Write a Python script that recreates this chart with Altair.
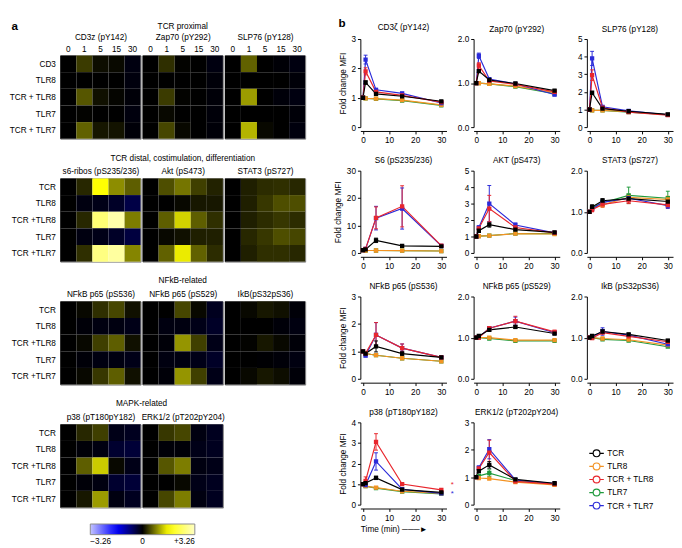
import altair as alt
import pandas as pd

FONT = "Liberation Sans"
FS = 8.5
TIMES = [0, 1, 5, 15, 30]
TIME_LABELS = ["0", "1", "5", "15", "30"]
ROWS_PROX = ["CD3", "TLR8", "TCR + TLR8", "TLR7", "TCR + TLR7"]
ROWS_OTHER = ["TCR", "TLR8", "TCR +TLR8", "TLR7", "TCR +TLR7"]

# ---------------- panel a: heat values (rows = conditions, columns = TIMES)
cd3z = [[0, 0.38, 0.08, 0.06, -0.10], [0, 0.00, 0.00, 0.00, -0.08], [0, 0.55, 0.10, 0.03, -0.05],
        [0, 0.02, 0.00, 0.00, -0.08], [0, 0.62, 0.14, 0.12, -0.05]]
zap70 = [[0, 0.30, 0.02, 0.00, -0.10], [0, 0.00, 0.00, 0.00, -0.06], [0, 0.38, 0.02, 0.00, -0.05],
         [0, 0.05, 0.00, 0.00, -0.06], [0, 0.45, 0.05, 0.00, -0.05]]
slp76 = [[0, 0.62, 0.00, -0.04, -0.10], [0, 0.00, 0.00, 0.00, -0.05], [0, 1.00, 0.00, -0.06, -0.10],
         [0, 0.00, 0.00, 0.00, -0.05], [0, 1.15, 0.05, 0.00, -0.08]]
s6ribos = [[0, 0.25, 1.65, 0.90, 0.60], [0, -0.10, -0.15, -0.25, -0.45], [0, 0.25, 2.60, 3.05, 0.80],
           [0, -0.10, -0.15, -0.25, -0.40], [0, 0.30, 2.70, 2.95, 0.85]]
akt = [[0, 0.50, 0.75, 0.40, 0.22], [0, 0.00, 0.05, 0.15, 0.15], [0, 0.60, 1.35, 0.60, 0.30],
       [0, 0.05, 0.10, 0.20, 0.20], [0, 0.62, 1.50, 0.62, 0.28]]
stat3 = [[0, 0.20, 0.28, 0.30, 0.25], [0, 0.20, 0.35, 0.50, 0.50], [0, 0.20, 0.28, 0.35, 0.28],
         [0, 0.25, 0.35, 0.50, 0.45], [0, 0.20, 0.30, 0.30, 0.25]]
nfkb536 = [[0, 0.05, 0.30, 0.45, 0.10], [0, -0.05, -0.10, -0.10, -0.15], [0, 0.05, 0.40, 0.60, 0.10],
           [0, -0.05, -0.10, -0.10, -0.15], [0, 0.05, 0.35, 0.60, 0.10]]
nfkb529 = [[0, 0.00, 0.45, 0.05, -0.20], [0, -0.10, -0.10, -0.15, -0.25], [0, -0.05, 0.95, 0.40, -0.15],
           [0, -0.10, -0.10, -0.15, -0.25], [0, -0.05, 0.95, 0.40, -0.15]]
ikb = [[0, 0.05, 0.15, 0.10, -0.05], [0, 0.00, 0.00, -0.05, -0.10], [0, 0.02, 0.15, 0.05, -0.05],
       [0, 0.00, -0.02, -0.05, -0.10], [0, 0.05, 0.15, 0.08, -0.05]]
p38 = [[0, 0.25, 0.40, -0.15, -0.20], [0, -0.05, -0.10, -0.30, -0.35], [0, 0.60, 1.30, 0.05, -0.15],
       [0, -0.05, -0.10, -0.30, -0.35], [0, 0.15, 1.00, -0.10, -0.20]]
erk = [[0, 0.35, 0.45, -0.10, -0.20], [0, -0.05, -0.05, -0.15, -0.20], [0, 0.55, 0.80, -0.10, -0.15],
       [0, 0.00, 0.05, -0.15, -0.20], [0, 0.45, 0.80, -0.10, -0.20]]

HEAT_ROWS = [
    (ROWS_PROX, [(None, "CD3z (pY142)", cd3z), ("TCR proximal", "Zap70 (pY292)", zap70),
                 (None, "SLP76 (pY128)", slp76)]),
    (ROWS_OTHER, [(None, "s6-ribos (pS235/236)", s6ribos),
                  ("TCR distal, costimulation, differentiation", "Akt (pS473)", akt),
                  (None, "STAT3 (pS727)", stat3)]),
    (ROWS_OTHER, [(None, "NFkB p65 (pS536)", nfkb536), ("NFkB-related", "NFkB p65 (pS529)", nfkb529),
                  (None, "IkB(pS32pS36)", ikb)]),
    (ROWS_OTHER, [("MAPK-related", "p38 (pT180pY182)", p38), (None, "ERK1/2 (pT202pY204)", erk)]),
]
HEAT_DOMAIN = [-3.26, -1.63, 0, 1.63, 3.26]
HEAT_RANGE = ["#c4c4ff", "#0000ff", "#000000", "#ffff00", "#ffffc4"]

# ---------------- panel b: fold change MFI (columns = TIMES)
CONDS = ["TCR", "TLR8", "TCR + TLR8", "TLR7", "TCR + TLR7"]
COLORS = ["#000000", "#f39323", "#e8262d", "#1f9a3c", "#2b2bd9"]
DRAW_ORDER = ["TLR7", "TLR8", "TCR + TLR7", "TCR + TLR8", "TCR"]

b_cd3 = {"TCR": [1, 1.52, 1.13, 1.05, 0.88], "TLR8": [1, 0.98, 0.97, 0.92, 0.76],
         "TCR + TLR8": [1, 1.90, 1.20, 1.08, 0.85], "TLR7": [1, 0.98, 0.96, 0.90, 0.74],
         "TCR + TLR7": [1, 2.30, 1.27, 1.15, 0.82]}
e_cd3 = {"TCR": [0, 0.05, 0.03, 0.03, 0.03], "TCR + TLR8": [0, 0.12, 0.04, 0.03, 0.03],
         "TCR + TLR7": [0, 0.15, 0.05, 0.04, 0.03]}
b_zap = {"TCR": [1, 1.27, 1.07, 0.99, 0.83], "TLR8": [1, 1.00, 0.98, 0.93, 0.78],
         "TCR + TLR8": [1, 1.40, 1.05, 0.97, 0.80], "TLR7": [1, 1.00, 0.98, 0.92, 0.76],
         "TCR + TLR7": [1, 1.62, 1.09, 0.98, 0.74]}
e_zap = {"TCR": [0, 0.03, 0.02, 0.02, 0.02], "TCR + TLR8": [0, 0.06, 0.02, 0.02, 0.02],
         "TCR + TLR7": [0, 0.06, 0.02, 0.02, 0.03]}
b_slp = {"TCR": [1, 1.95, 1.05, 0.90, 0.72], "TLR8": [1, 0.95, 0.95, 0.87, 0.70],
         "TCR + TLR8": [1, 2.95, 1.10, 0.85, 0.68], "TLR7": [1, 0.95, 0.95, 0.85, 0.70],
         "TCR + TLR7": [1, 3.90, 1.15, 0.92, 0.70]}
e_slp = {"TCR + TLR8": [0, 0.30, 0.05, 0.04, 0.03], "TCR + TLR7": [0, 0.40, 0.05, 0.04, 0.03]}
b_s6 = {"TCR": [1, 1.3, 4.6, 2.6, 2.4], "TLR8": [1, 0.9, 0.9, 0.85, 0.7],
        "TCR + TLR8": [1, 1.5, 12.8, 17.0, 2.7], "TLR7": [1, 0.9, 0.9, 0.85, 0.7],
        "TCR + TLR7": [1, 1.5, 12.7, 16.2, 2.6]}
e_s6 = {"TCR": [0, 0.2, 0.8, 0.2, 0.2], "TCR + TLR8": [0, 0.3, 4.0, 7.5, 0.3],
        "TCR + TLR7": [0, 0.3, 4.3, 7.5, 0.3]}
b_akt = {"TCR": [1, 1.35, 1.72, 1.42, 1.25], "TLR8": [1, 1.02, 1.05, 1.17, 1.15],
         "TCR + TLR8": [1, 1.50, 2.70, 1.55, 1.22], "TLR7": [1, 1.02, 1.05, 1.18, 1.17],
         "TCR + TLR7": [1, 1.55, 3.00, 1.70, 1.22]}
e_akt = {"TCR": [0, 0.08, 0.15, 0.06, 0.05], "TCR + TLR8": [0, 0.10, 0.80, 0.10, 0.05],
         "TCR + TLR7": [0, 0.10, 1.10, 0.12, 0.05]}
b_stat = {"TCR": [1, 1.12, 1.27, 1.32, 1.25], "TLR8": [1, 1.08, 1.17, 1.35, 1.30],
          "TCR + TLR8": [1, 1.05, 1.18, 1.27, 1.17], "TLR7": [1, 1.10, 1.22, 1.40, 1.33],
          "TCR + TLR7": [1, 1.07, 1.23, 1.33, 1.15]}
e_stat = {"TCR": [0, 0.05, 0.05, 0.06, 0.06], "TLR8": [0, 0.05, 0.06, 0.08, 0.08],
          "TCR + TLR8": [0, 0.05, 0.06, 0.07, 0.07], "TLR7": [0, 0.05, 0.06, 0.20, 0.17],
          "TCR + TLR7": [0, 0.05, 0.06, 0.08, 0.07]}
b_nf536 = {"TCR": [1, 0.92, 1.18, 0.92, 0.78], "TLR8": [1, 0.92, 0.86, 0.75, 0.64],
           "TCR + TLR8": [1, 0.93, 1.60, 1.12, 0.78], "TLR7": [1, 0.92, 0.86, 0.75, 0.64],
           "TCR + TLR7": [1, 0.85, 1.60, 1.12, 0.78]}
e_nf536 = {"TCR": [0, 0.04, 0.20, 0.08, 0.03], "TCR + TLR8": [0, 0.05, 0.45, 0.15, 0.03],
           "TCR + TLR7": [0, 0.05, 0.45, 0.15, 0.03]}
b_nf529 = {"TCR": [1, 1.04, 1.19, 1.26, 1.10], "TLR8": [1, 1.00, 1.00, 0.94, 0.94],
           "TCR + TLR8": [1, 1.00, 1.23, 1.40, 1.14], "TLR7": [1, 1.00, 0.98, 0.92, 0.92],
           "TCR + TLR7": [1, 1.01, 1.23, 1.40, 1.12]}
e_nf529 = {"TCR": [0, 0.02, 0.03, 0.04, 0.03], "TCR + TLR8": [0, 0.02, 0.03, 0.12, 0.04],
           "TCR + TLR7": [0, 0.02, 0.03, 0.10, 0.04]}
b_ikb = {"TCR": [1, 1.04, 1.15, 1.08, 0.93], "TLR8": [1, 1.00, 0.98, 0.95, 0.82],
         "TCR + TLR8": [1, 0.99, 1.12, 1.03, 0.90], "TLR7": [1, 1.00, 0.96, 0.93, 0.78],
         "TCR + TLR7": [1, 1.02, 1.15, 1.06, 0.84]}
e_ikb = {"TCR": [0, 0.03, 0.05, 0.03, 0.03], "TCR + TLR7": [0, 0.03, 0.09, 0.03, 0.03]}
b_p38 = {"TCR": [1, 1.05, 1.30, 0.73, 0.60], "TLR8": [1, 0.90, 0.83, 0.65, 0.55],
         "TCR + TLR8": [1, 1.15, 3.05, 1.00, 0.72], "TLR7": [1, 0.90, 0.80, 0.63, 0.52],
         "TCR + TLR7": [1, 0.95, 2.10, 0.75, 0.55]}
e_p38 = {"TCR": [0, 0.05, 0.08, 0.04, 0.03], "TCR + TLR8": [0, 0.20, 0.40, 0.05, 0.04],
         "TCR + TLR7": [0, 0.08, 0.42, 0.05, 0.04]}
b_erk = {"TCR": [1, 1.22, 1.45, 0.92, 0.78], "TLR8": [1, 0.97, 0.95, 0.82, 0.72],
         "TCR + TLR8": [1, 1.32, 1.90, 0.85, 0.75], "TLR7": [1, 1.05, 1.15, 0.88, 0.75],
         "TCR + TLR7": [1, 1.35, 2.02, 0.90, 0.77]}
e_erk = {"TCR": [0, 0.05, 0.12, 0.03, 0.03], "TLR7": [0, 0.05, 0.12, 0.03, 0.03],
         "TCR + TLR8": [0, 0.06, 0.45, 0.04, 0.03], "TCR + TLR7": [0, 0.06, 0.35, 0.04, 0.03]}

B_PANELS = [
    ("CD3\u03b6 (pY142)", 3, [0, 1, 2, 3], b_cd3, e_cd3),
    ("Zap70 (pY292)", 2, [0, 1, 2], b_zap, e_zap),
    ("SLP76 (pY128)", 5, [0, 1, 2, 3, 4, 5], b_slp, e_slp),
    ("S6 (pS235/236)", 30, [0, 10, 20, 30], b_s6, e_s6),
    ("AKT (pS473)", 5, [0, 1, 2, 3, 4, 5], b_akt, e_akt),
    ("STAT3 (pS727)", 2, [0, 1, 2], b_stat, e_stat),
    ("NFkB p65 (pS536)", 3, [0, 1, 2, 3], b_nf536, e_nf536),
    ("NFkB p65 (pS529)", 2, [0, 1, 2], b_nf529, e_nf529),
    ("IkB (pS32pS36)", 2, [0, 1, 2], b_ikb, e_ikb),
    ("p38 (pT180pY182)", 4, [0, 1, 2, 3, 4], b_p38, e_p38),
    ("ERK1/2 (pT202pY204)", 3, [0, 1, 2, 3], b_erk, e_erk),
]
STAR_Y_RED = [0.93]
STAR_Y_BLUE = [0.52]

# ---------------- sizes
HW, HH = 83, 86
BW, BH = 89, 85
BH1, RISE1 = 74, 17   # first row of panel b: layout height, and how far its plot rises above

heat_legend = alt.Legend(orient="none", legendX=31, legendY=103, direction="horizontal",
                         gradientLength=108, gradientThickness=11, title=None,
                         values=[-3.26, 0, 3.26],
                         labelExpr="datum.value < 0 ? '\u22123.26' : (datum.value > 0 ? '+3.26' : '0')",
                         labelFontSize=FS, labelAlign="center", labelOverlap=False,
                         gradientStrokeColor="#8a8a8a", gradientStrokeWidth=1, labelOffset=3)
heat_scale = alt.Scale(domain=HEAT_DOMAIN, range=HEAT_RANGE, interpolate="rgb")


def heat_chart(group_line, name, rows, vals, ri, ci):
    recs = []
    for i, r in enumerate(rows):
        for j, t in enumerate(TIME_LABELS):
            recs.append({"cond": r, "time": t, "v": vals[i][j]})
    df = pd.DataFrame(recs)
    xax = alt.Axis(orient="top", ticks=False, domain=False, labelAngle=0, labelPadding=2,
                   labels=(ri == 0), title=name, titleFontSize=FS, titleFontWeight="normal",
                   titlePadding=3, labelFontSize=FS)
    if ci == 0:
        if ri == 0:
            yax = alt.Axis(ticks=False, domain=False, labelPadding=5, labelFontSize=FS,
                           title="a", titleAngle=0, titleX=-51, titleY=-31, titleAlign="left",
                           titleBaseline="middle", titleFontSize=12, titleFontWeight="bold")
        else:
            yax = alt.Axis(ticks=False, domain=False, labelPadding=5, title=None, labelFontSize=FS)
    else:
        yax = None
    kw = {}
    if group_line:
        kw["title"] = alt.Title(group_line, fontSize=FS, fontWeight="normal",
                                offset=(3 if ri == 0 else 5), anchor="middle", frame="group",
                                dx=(HW / 2 + 1) if ri == 3 else 0)
    leg = heat_legend if (ri == 3 and ci == 0) else None
    return alt.Chart(
        df, view=alt.ViewBackground(stroke="#808080", strokeWidth=1), **kw
    ).mark_rect().encode(
        x=alt.X("time:O", sort=TIME_LABELS, axis=xax),
        y=alt.Y("cond:O", sort=rows, axis=yax),
        color=alt.Color("v:Q", scale=heat_scale, legend=leg),
    ).properties(width=HW, height=HH)


heat_cells = []
for ri, (rows, items) in enumerate(HEAT_ROWS):
    for ci, (g, name, vals) in enumerate(items):
        heat_cells.append(heat_chart(g, name, rows, vals, ri, ci))

panel_a = alt.concat(*heat_cells, columns=3, spacing={"row": 41, "column": 2},
                     bounds="flush").resolve_scale(color="independent")

LEGEND_PATH = "M-1.5,0L-0.7,0M0.7,0L1.5,0M0.7,0A0.7,0.7,0,1,1,-0.7,0A0.7,0.7,0,1,1,0.7,0"
line_legend = alt.Legend(orient="none", legendX=121, legendY=26, title=None, symbolType=LEGEND_PATH,
                         symbolSize=100, symbolStrokeWidth=1.2, symbolFillColor="white",
                         labelFontSize=FS, rowPadding=1.5, labelOffset=5)
stroke_scale = alt.Scale(domain=CONDS, range=COLORS)


def line_chart(idx, name, ymax, yticks, means, errs):
    col = idx % 3
    first_row = idx < 3
    last_row = idx >= 9
    h = BH1 if first_row else BH
    recs = []
    for c in DRAW_ORDER:
        e = errs.get(c, [0] * 5)
        for t, v, ee in zip(TIMES, means[c], e):
            recs.append({"cond": c, "t": t, "v": v, "lo": v - ee, "hi": v + ee, "e": ee})
    df = pd.DataFrame(recs)
    ytitle = "Fold change MFI" if col == 0 else None
    xkw = dict(values=[0, 10, 20, 30], tickSize=3, labelFontSize=FS, offset=4, grid=False,
               domainColor="black", tickColor="black", labelPadding=2)
    if last_row and col == 0:
        xax = alt.Axis(title="Time (min) \u2500\u2500\u2500\u25ba", titleFontSize=FS,
                       titleFontWeight="normal", titleAnchor="start", titleAlign="left",
                       titlePadding=3, **xkw)
    elif idx == 0:
        xax = alt.Axis(title="b", titleFontSize=12, titleFontWeight="bold", titleAngle=0,
                       titleX=-23, titleY=-(h + RISE1 + 21), titleAlign="left",
                       titleBaseline="middle", **xkw)
    else:
        xax = alt.Axis(title=None, **xkw)
    yax = alt.Axis(values=yticks, tickSize=3, labelFontSize=FS, grid=False, domainColor="black",
                   tickColor="black", labelPadding=2, title=ytitle, titleFontSize=FS,
                   titleFontWeight="normal", titlePadding=4)
    xs = alt.Scale(domain=[-1, 32], nice=False)
    if first_row:
        ys = alt.Scale(domain=[0, ymax], nice=False, range=[h, -RISE1])
    else:
        ys = alt.Scale(domain=[0, ymax], nice=False)
    base = alt.Chart(df)
    x = alt.X("t:Q", scale=xs, axis=xax)
    st_nol = alt.Stroke("cond:N", scale=stroke_scale, legend=None)
    leg = line_legend if idx == 10 else None
    line = base.mark_line(strokeWidth=1.2).encode(
        x=x, y=alt.Y("v:Q", scale=ys, axis=yax),
        stroke=alt.Stroke("cond:N", scale=stroke_scale, legend=leg))
    eb = base.transform_filter("datum.e > 0")
    rule = eb.mark_rule(strokeWidth=1).encode(
        x=x, y=alt.Y("lo:Q", scale=ys, axis=yax), y2="hi:Q", stroke=st_nol)
    cap_hi = eb.mark_rule(strokeWidth=1, xOffset=-2, x2Offset=2).encode(
        x=x, x2="t:Q", y=alt.Y("hi:Q", scale=ys, axis=yax), stroke=st_nol)
    cap_lo = eb.mark_rule(strokeWidth=1, xOffset=-2, x2Offset=2).encode(
        x=x, x2="t:Q", y=alt.Y("lo:Q", scale=ys, axis=yax), stroke=st_nol)
    pts = base.mark_point(shape="square", filled=False, size=5, strokeWidth=2.2, opacity=1).encode(
        x=x, y=alt.Y("v:Q", scale=ys, axis=yax), stroke=st_nol)
    layers = [line, rule, cap_hi, cap_lo, pts]
    if name.startswith("p38"):
        for ys_list, colr in ((STAR_Y_RED, COLORS[2]), (STAR_Y_BLUE, COLORS[4])):
            sdf = pd.DataFrame({"y": ys_list})
            layers.append(alt.Chart(sdf).mark_text(text="*", fontSize=8, baseline="middle",
                                                   color=colr).encode(
                x=alt.value(BW + 6), y=alt.Y("y:Q", scale=ys, axis=yax)))
    return alt.layer(*layers).properties(
        width=BW, height=h,
        title=alt.Title(name, fontSize=FS, fontWeight="normal", frame="group", anchor="middle",
                        offset=(-15.5 if idx == 0 else 2)))


b_cells = [line_chart(i, *p) for i, p in enumerate(B_PANELS)]
panel_b = alt.concat(*b_cells, columns=3, spacing={"row": 45, "column": 28}, align="each",
                     bounds="flush").resolve_scale(stroke="independent")

chart = alt.hconcat(panel_a, panel_b, spacing=28).properties(padding=0).configure(
    font=FONT).configure_view(stroke=None).configure_axis(labelColor="black", titleColor="black")

chart.save("out.html", embed_options={"renderer": "svg", "actions": False})
